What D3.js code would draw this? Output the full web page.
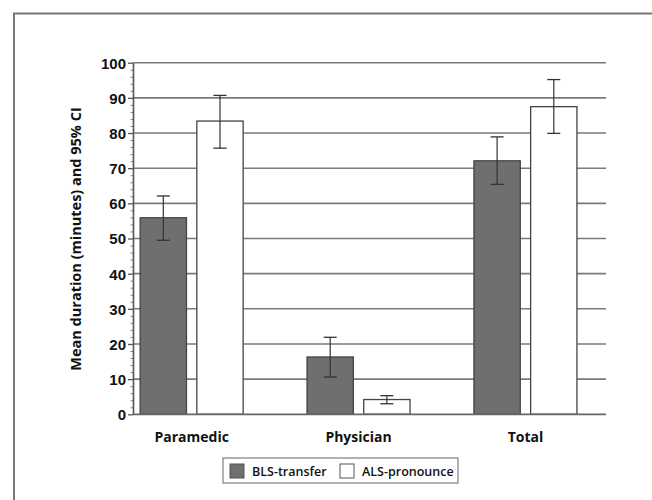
<!DOCTYPE html>
<html><head><meta charset="utf-8">
<script src="https://cdn.jsdelivr.net/npm/d3@7"></script>
<style>body{margin:0;background:#fff}svg{display:block}</style>
</head><body>
<svg id="c" width="652" height="500"></svg>
<script>
const categories = ["Paramedic", "Physician", "Total"];
const series = ["BLS-transfer", "ALS-pronounce"];
const blsMean = [55.9, 16.3, 72.1];
const blsLow  = [49.5, 10.6, 65.4];
const blsHigh = [62.1, 21.9, 78.9];
const alsMean = [83.4, 4.2, 87.5];
const alsLow  = [75.7, 3.0, 79.9];
const alsHigh = [90.7, 5.3, 95.2];
const yTicks = [0,10,20,30,40,50,60,70,80,90,100];
const yTitle = "Mean duration (minutes) and 95% CI";

const colors = {"BLS-transfer":"#6f6f6f","ALS-pronounce":"#ffffff"};
const rows = [];
categories.forEach((c,i)=>{
  rows.push({cat:c, s:series[0], v:blsMean[i], lo:blsLow[i], hi:blsHigh[i]});
  rows.push({cat:c, s:series[1], v:alsMean[i], lo:alsLow[i], hi:alsHigh[i]});
});

const svg = d3.select("#c");
const X0 = 133, X1 = 606, Y0 = 414.3, Y1 = 62.7;
const y = d3.scaleLinear().domain([0,100]).range([Y0, Y1]);
const x = d3.scaleBand().domain(categories).range([108.2, 608.9]).paddingInner(0).paddingOuter(0);
const xi = d3.scaleBand().domain(series).range([-51.5, 51.5]).paddingInner(0.183);

// frame
svg.append("path").attr("d","M14,500V13.5H652").attr("fill","none").attr("stroke","#777").attr("stroke-width",2);

// gridlines
svg.append("g").selectAll("line").data(yTicks.filter(t=>t>0)).join("line")
  .attr("x1",X0).attr("x2",X1).attr("y1",d=>y(d)).attr("y2",d=>y(d))
  .attr("stroke","#7a7a7a").attr("stroke-width",1.6);

// y axis with minor ticks
const minor = d3.range(0,101,2).filter(d=>d%10!==0);
const gMinor = svg.append("g").attr("transform",`translate(${X0},0)`)
  .call(d3.axisLeft(y).tickValues(minor).tickSize(2.5).tickFormat(""));
gMinor.select(".domain").remove();
gMinor.selectAll("line").attr("stroke","#888").attr("stroke-width",1);

const gy = svg.append("g").attr("transform",`translate(${X0},0)`)
  .call(d3.axisLeft(y).tickValues(yTicks).tickSize(5).tickPadding(2).tickSizeOuter(0));
gy.select(".domain").attr("stroke","#555").attr("stroke-width",1.6);
gy.selectAll(".tick line").attr("stroke","#555").attr("stroke-width",1.3);
gy.selectAll(".tick text").attr("font-family","'Liberation Sans', Arial, sans-serif")
  .attr("font-weight","bold").attr("font-size",15).attr("fill","#111").attr("dy","0.36em");

// bars
svg.append("g").selectAll("rect").data(rows).join("rect")
  .attr("x",d=>x(d.cat)+x.bandwidth()/2+xi(d.s))
  .attr("width",xi.bandwidth())
  .attr("y",d=>y(d.v)).attr("height",d=>y(0)-y(d.v))
  .attr("fill",d=>colors[d.s]).attr("stroke","#444").attr("stroke-width",1.3);

// baseline
svg.append("line").attr("x1",X0).attr("x2",X1).attr("y1",y(0)).attr("y2",y(0))
  .attr("stroke","#666").attr("stroke-width",1.8);

// error bars
const eb = svg.append("g").selectAll("g").data(rows).join("g")
  .attr("transform",d=>`translate(${x(d.cat)+x.bandwidth()/2+xi(d.s)+xi.bandwidth()/2},0)`);
eb.append("line").attr("y1",d=>y(d.lo)).attr("y2",d=>y(d.hi)).attr("stroke","#333").attr("stroke-width",1.2);
eb.append("line").attr("x1",-6.5).attr("x2",6.5).attr("y1",d=>y(d.lo)).attr("y2",d=>y(d.lo)).attr("stroke","#333").attr("stroke-width",1.3);
eb.append("line").attr("x1",-6.5).attr("x2",6.5).attr("y1",d=>y(d.hi)).attr("y2",d=>y(d.hi)).attr("stroke","#333").attr("stroke-width",1.3);

// category labels
svg.append("g").selectAll("text").data(categories).join("text")
  .attr("x",d=>x(d)+x.bandwidth()/2).attr("y",442)
  .attr("text-anchor","middle").attr("font-family","'Open Sans', sans-serif")
  .attr("font-weight",700).attr("font-size",14).attr("fill","#111").text(d=>d);

// y title
svg.append("text").attr("transform",`translate(81,239) rotate(-90)`)
  .attr("text-anchor","middle").attr("font-family","'Open Sans', sans-serif")
  .attr("font-weight",700).attr("font-size",14.5).attr("fill","#111").text(yTitle);

// legend
const lg = svg.append("g");
lg.append("rect").attr("x",223).attr("y",458).attr("width",235).attr("height",25)
  .attr("fill","#fff").attr("stroke","#888").attr("stroke-width",1.3);
const lx = [230, 340];
series.forEach((s,i)=>{
  lg.append("rect").attr("x",lx[i]).attr("y",464).attr("width",14).attr("height",14)
    .attr("fill",colors[s]).attr("stroke","#555").attr("stroke-width",1);
  lg.append("text").attr("x",lx[i]+22).attr("y",475.5).attr("font-family","'Open Sans', sans-serif")
    .attr("font-weight",600).attr("font-size",12.5).attr("fill","#111").text(s);
});
</script>
</body></html>
